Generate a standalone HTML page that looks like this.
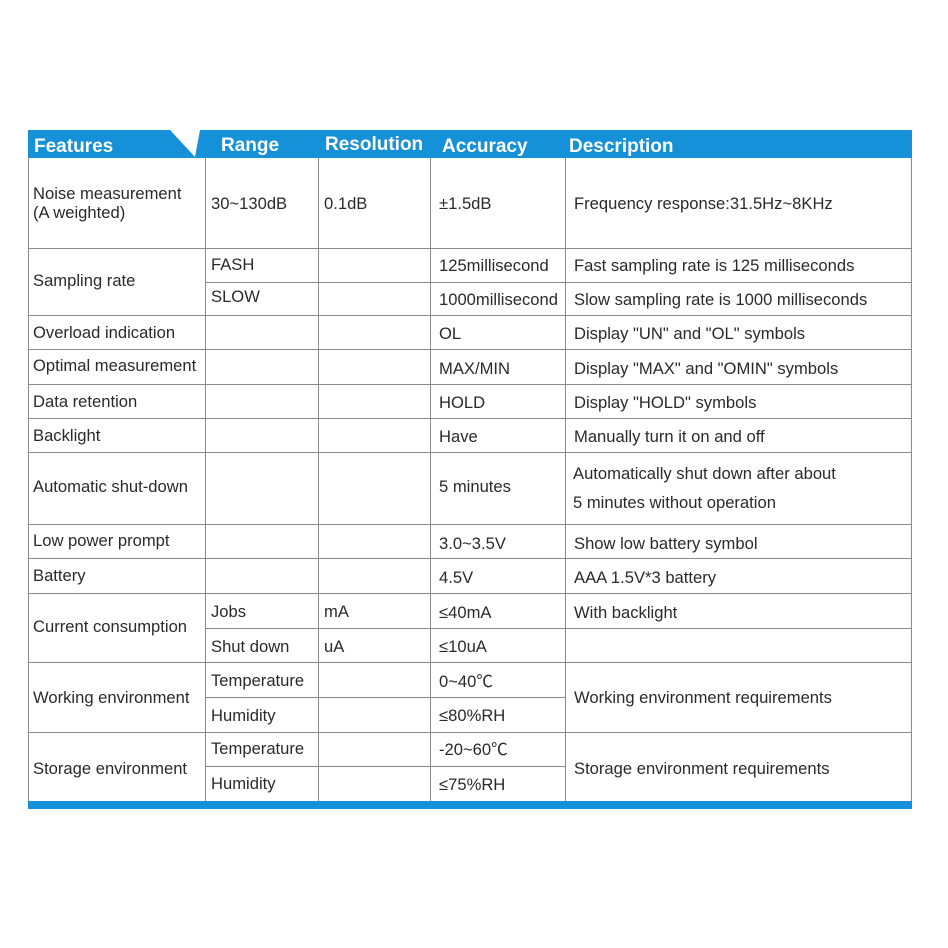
<!DOCTYPE html>
<html><head><meta charset="utf-8"><style>
html,body{margin:0;padding:0;background:#fff;width:948px;height:948px;overflow:hidden}
svg text{font-family:"Liberation Sans","Noto Sans CJK SC",sans-serif;font-size:16.6px;fill:#2a2a2a}
svg text.h{font-size:19px;font-weight:bold;fill:#fff}
</style></head><body>
<svg width="948" height="948" viewBox="0 0 948 948" xmlns="http://www.w3.org/2000/svg">
<rect x="28" y="130" width="884" height="28" fill="#1591d9"/>
<polygon points="170,130 200,130 195,157" fill="#fff"/>
<rect x="28" y="801" width="884" height="8" fill="#1591d9"/>
<g stroke="#8a8a8a" stroke-width="1" fill="none">
<line x1="28.5" y1="158" x2="28.5" y2="801"/>
<line x1="911.5" y1="158" x2="911.5" y2="801"/>
<line x1="205.5" y1="158" x2="205.5" y2="801"/>
<line x1="318.5" y1="158" x2="318.5" y2="801"/>
<line x1="430.5" y1="158" x2="430.5" y2="801"/>
<line x1="565.5" y1="158" x2="565.5" y2="801"/>
<line x1="28" y1="248.5" x2="912" y2="248.5"/>
<line x1="205" y1="282.5" x2="912" y2="282.5"/>
<line x1="28" y1="315.5" x2="912" y2="315.5"/>
<line x1="28" y1="349.5" x2="912" y2="349.5"/>
<line x1="28" y1="384.5" x2="912" y2="384.5"/>
<line x1="28" y1="418.5" x2="912" y2="418.5"/>
<line x1="28" y1="452.5" x2="912" y2="452.5"/>
<line x1="28" y1="524.5" x2="912" y2="524.5"/>
<line x1="28" y1="558.5" x2="912" y2="558.5"/>
<line x1="28" y1="593.5" x2="912" y2="593.5"/>
<line x1="205" y1="628.5" x2="912" y2="628.5"/>
<line x1="28" y1="662.5" x2="912" y2="662.5"/>
<line x1="205" y1="697.5" x2="565" y2="697.5"/>
<line x1="28" y1="732.5" x2="912" y2="732.5"/>
<line x1="205" y1="766.5" x2="565" y2="766.5"/>
</g>
<text class="h" x="34" y="152">Features</text>
<text class="h" x="221" y="151">Range</text>
<text class="h" x="325" y="150">Resolution</text>
<text class="h" x="442" y="152">Accuracy</text>
<text class="h" x="569" y="152">Description</text>

<text x="33" y="199">Noise measurement</text>
<text x="33" y="218">(A weighted)</text>
<text x="211" y="209">30~130dB</text>
<text x="324" y="209">0.1dB</text>
<text x="439" y="209">±1.5dB</text>
<text x="574" y="209">Frequency response:31.5Hz~8KHz</text>

<text x="33" y="286">Sampling rate</text>
<text x="211" y="270">FASH</text>
<text x="439" y="271">125millisecond</text>
<text x="574" y="271">Fast sampling rate is 125 milliseconds</text>
<text x="211" y="302">SLOW</text>
<text x="439" y="305">1000millisecond</text>
<text x="574" y="305">Slow sampling rate is 1000 milliseconds</text>

<text x="33" y="338">Overload indication</text>
<text x="439" y="339">OL</text>
<text x="574" y="339">Display "UN" and "OL" symbols</text>

<text x="33" y="371">Optimal measurement</text>
<text x="439" y="374">MAX/MIN</text>
<text x="574" y="374">Display "MAX" and "OMIN" symbols</text>

<text x="33" y="407">Data retention</text>
<text x="439" y="408">HOLD</text>
<text x="574" y="408">Display "HOLD" symbols</text>

<text x="33" y="441">Backlight</text>
<text x="439" y="442">Have</text>
<text x="574" y="442">Manually turn it on and off</text>

<text x="33" y="492">Automatic shut-down</text>
<text x="439" y="492">5 minutes</text>
<text x="573" y="479">Automatically shut down after about</text>
<text x="573" y="508">5 minutes without operation</text>

<text x="33" y="546">Low power prompt</text>
<text x="439" y="549">3.0~3.5V</text>
<text x="574" y="549">Show low battery symbol</text>

<text x="33" y="581">Battery</text>
<text x="439" y="583">4.5V</text>
<text x="574" y="583">AAA 1.5V*3 battery</text>

<text x="33" y="632">Current consumption</text>
<text x="211" y="617">Jobs</text>
<text x="324" y="617">mA</text>
<text x="439" y="618">≤40mA</text>
<text x="574" y="618">With backlight</text>
<text x="211" y="652">Shut down</text>
<text x="324" y="652">uA</text>
<text x="439" y="652">≤10uA</text>

<text x="33" y="703">Working environment</text>
<text x="211" y="686">Temperature</text>
<text x="439" y="687">0~40℃</text>
<text x="211" y="721">Humidity</text>
<text x="439" y="721">≤80%RH</text>
<text x="574" y="703">Working environment requirements</text>

<text x="33" y="774">Storage environment</text>
<text x="211" y="754">Temperature</text>
<text x="439" y="755">-20~60℃</text>
<text x="211" y="789">Humidity</text>
<text x="439" y="790">≤75%RH</text>
<text x="574" y="774">Storage environment requirements</text>
</svg>
</body></html>
